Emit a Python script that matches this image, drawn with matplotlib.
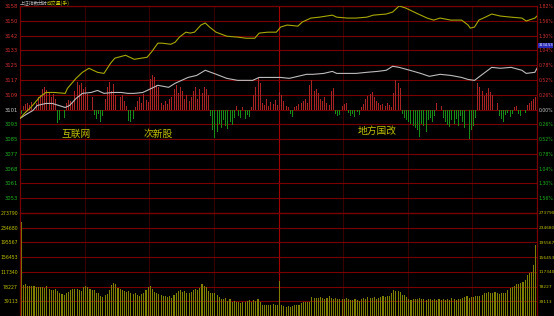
import matplotlib.pyplot as plt
import matplotlib.transforms as mtransforms

plt.rcParams['font.family'] = ['Noto Sans CJK SC', 'DejaVu Sans']

# --- data ---------------------------------------------------------------
prev_close = 3101.0
price_step = 8.07

left_labels = ['3158', '3150', '3142', '3133', '3125', '3117', '3109', '3101',
               '3093', '3085', '3077', '3068', '3061', '3053']
right_labels = ['1.82%', '1.56%', '1.30%', '1.04%', '0.78%', '0.52%', '0.26%', '0.00%',
                '0.26%', '0.52%', '0.78%', '1.04%', '1.30%', '1.56%']
vol_labels = ['273790', '234680', '195567', '156453', '117340', '78227', '39113']
vol_step = 39113

# yellow line (minute, price)
yellow_min = [0, 2, 5, 7, 9, 12, 16, 21, 22, 26, 29, 32, 36, 39, 42, 44, 49, 53, 59, 61,
              64, 66, 70, 72, 74, 77, 79, 81, 84, 86, 88, 91, 96, 101, 105, 109, 111, 115,
              119, 121, 124, 129, 131, 135, 139, 145, 147, 152, 156, 161, 164, 170, 173,
              176, 179, 184, 189, 192, 195, 200, 205, 208, 209, 211, 213, 216, 219, 223,
              228, 233, 235, 239, 240]
yellow_px = [3096.1, 3098.8, 3102.1, 3104.8, 3107.6, 3110.3, 3110.3, 3109.8, 3112.5, 3118.0,
             3121.3, 3123.5, 3121.3, 3120.7, 3126.2, 3129.0, 3130.6, 3128.4, 3129.5, 3132.3,
             3137.2, 3137.2, 3136.6, 3137.7, 3140.5, 3143.2, 3142.7, 3143.2, 3147.1, 3148.2,
             3146.0, 3143.2, 3141.0, 3140.5, 3139.9, 3139.9, 3142.7, 3143.2, 3143.2, 3146.0,
             3147.1, 3146.5, 3148.7, 3150.9, 3151.4, 3152.5, 3151.4, 3150.9, 3150.9, 3151.4,
             3152.5, 3153.1, 3154.2, 3157.5, 3156.4, 3153.6, 3150.9, 3149.8, 3150.9, 3149.8,
             3149.8, 3147.1, 3145.4, 3146.0, 3149.8, 3151.4, 3153.1, 3152.0, 3151.4, 3150.9,
             3149.3, 3150.9, 3152.0]

# white line (minute, price)
white_min = [0, 2, 6, 8, 12, 15, 18, 21, 23, 26, 29, 33, 36, 39, 43, 47, 50, 53, 57, 61,
             64, 69, 72, 75, 78, 82, 86, 90, 96, 101, 108, 111, 116, 121, 125, 129, 133,
             136, 141, 145, 147, 152, 156, 161, 166, 170, 173, 176, 181, 186, 190, 195, 200,
             205, 208, 211, 214, 219, 223, 228, 233, 235, 239, 240]
white_px = [3096.1, 3097.7, 3100.5, 3103.2, 3104.3, 3104.3, 3103.2, 3102.1, 3103.2, 3107.0,
            3109.8, 3110.3, 3111.4, 3109.8, 3110.3, 3110.3, 3109.8, 3109.8, 3110.3, 3112.5,
            3114.2, 3113.1, 3115.3, 3116.9, 3118.5, 3119.6, 3122.4, 3120.7, 3118.0, 3116.9,
            3116.9, 3118.5, 3118.5, 3118.5, 3118.0, 3119.1, 3120.2, 3120.2, 3120.7, 3121.8,
            3120.7, 3120.7, 3120.7, 3121.3, 3121.8, 3122.4, 3124.6, 3124.0, 3122.4, 3120.7,
            3119.1, 3120.2, 3119.6, 3118.5, 3117.4, 3116.9, 3119.6, 3124.0, 3123.5, 3124.0,
            3122.4, 3120.7, 3121.3, 3123.5]

# red/green strength bars, one per minute
breadth = [
    -4, 3, 5, 6, 4, 7, 8, 6, 12, 14,
    20, 22, 19, 16, 12, 15, 10, -13, -10, -14,
    -8, 6, 9, 8, 7, 18, 27, 24, 26, 20,
    22, 15, 17, 12, -5, -9, -4, -12, -6, 10,
    22, 27, 18, 25, 14, 16, 12, 14, 8, 3,
    -11, -12, -9, 2, 8, 12, 6, 15, 9, 7,
    30, 34, 32, 24, 22, 6, 4, 8, 5, 10,
    12, 20, 24, 16, 22, 18, 10, 14, 8, 12,
    18, 22, 10, 20, 16, 22, 20, 14, -6, -20,
    -28, -22, -14, -18, -10, -16, -19, -12, -15, -8,
    3, -6, -8, 2, -9, -5, -7, 2, 14, 22,
    31, 26, 6, 4, 10, 3, 7, 5, 9, 4,
    17, 14, 8, 3, 2, -4, -7, 2, 3, 5,
    6, 8, 10, 6, 24, 29, 18, 20, 16, 10,
    8, 12, 6, 4, 18, 21, -4, -6, -5, 3,
    5, 6, -3, -6, -4, -7, -2, -5, 2, 5,
    10, 13, 15, 17, 12, 8, 6, 4, 5, 3,
    6, 4, 2, 16, 29, 26, 21, -4, -8, -10,
    -12, -14, -16, -18, -20, -27, -14, -16, -22, -10,
    -8, -12, -6, 6, 9, 3, -8, -12, -15, -17,
    -10, -14, -9, -16, -6, -12, -18, -22, -29, -20,
    -16, -8, 26, 22, 18, 13, 16, 21, 17, 14,
    10, 6, -6, -9, -12, -5, -3, -7, -4, 2,
    3, -4, -6, 2, -3, 4, 6, 8, 10, 12,
]

volume = [
    250000, 82000, 84000, 80000, 81000, 79000, 80000, 77000, 76000, 78000,
    77000, 74000, 79000, 72000, 68000, 70000, 73000, 66000, 60000, 58000,
    55000, 62000, 64000, 70000, 72000, 73000, 71000, 68000, 66000, 78000,
    80000, 76000, 72000, 70000, 68000, 62000, 60000, 54000, 50000, 56000,
    58000, 70000, 82000, 88000, 86000, 74000, 72000, 68000, 66000, 64000,
    66000, 62000, 58000, 60000, 56000, 54000, 58000, 62000, 70000, 76000,
    80000, 72000, 64000, 60000, 58000, 56000, 54000, 52000, 50000, 52000,
    48000, 56000, 60000, 66000, 68000, 64000, 66000, 62000, 60000, 64000,
    68000, 72000, 70000, 74000, 85000, 80000, 76000, 66000, 62000, 60000,
    62000, 56000, 50000, 46000, 44000, 48000, 40000, 44000, 38000, 40000,
    36000, 36000, 35000, 37000, 36000, 40000, 42000, 38000, 43000, 40000,
    44000, 38000, 30000, 28000, 29000, 30000, 28000, 31000, 29000, 30000,
    93000, 28000, 27000, 25000, 27000, 24000, 26000, 28000, 30000, 29000,
    35000, 37000, 36000, 38000, 36000, 50000, 48000, 49000, 47000, 51000,
    48000, 46000, 49000, 52000, 47000, 45000, 48000, 44000, 46000, 45000,
    44000, 47000, 46000, 43000, 42000, 44000, 43000, 41000, 45000, 48000,
    46000, 50000, 47000, 49000, 51000, 46000, 48000, 50000, 52000, 50000,
    54000, 52000, 62000, 69000, 66000, 67000, 64000, 56000, 57000, 50000,
    44000, 42000, 45000, 46000, 44000, 47000, 46000, 45000, 43000, 46000,
    44000, 42000, 45000, 43000, 44000, 42000, 44000, 43000, 45000, 42000,
    47000, 44000, 43000, 46000, 44000, 48000, 50000, 52000, 49000, 51000,
    50000, 52000, 54000, 52000, 56000, 60000, 62000, 64000, 60000, 62000,
    63000, 60000, 58000, 61000, 60000, 62000, 70000, 74000, 76000, 80000,
    84000, 86000, 88000, 90000, 96000, 110000, 114000, 116000, 136000, 189000,
]

themes = ['互联网', '次新股', '地方国改']
theme_min = [26, 64, 166]
theme_px = [3087.8, 3087.8, 3089.5]

cursor_price = 3134.53

# --- figure -------------------------------------------------------------
BG = 'black'
GRID = '#7a0000'
VGRID = '#380000'
MIDV = '#a00000'

fig = plt.figure(figsize=(5.54, 3.16), dpi=100, facecolor=BG)
ax = fig.add_axes([20/554, 1 - 213/316, 517/554, 207/316])
axv = fig.add_axes([20/554, 0, 517/554, 103/316])

for a in (ax, axv):
    a.set_facecolor(BG)
    a.set_xlim(0, 240)
    a.set_xticks([])
    for s in a.spines.values():
        s.set_color(GRID)
        s.set_linewidth(0.9)
    for m in (30, 60, 90, 150, 180, 210):
        a.axvline(m, color=VGRID, lw=0.8, zorder=0)
    a.axvline(120, color=MIDV, lw=0.8, zorder=0)

# price panel
ax.set_ylim(prev_close - 7 * price_step, prev_close + 7 * price_step)
ticks = [prev_close + k * price_step for k in range(7, -7, -1)]
for t in ticks:
    ax.axhline(t, color=GRID, lw=0.8, zorder=0)
ax.set_yticks(ticks)
ax.set_yticklabels(left_labels)
ax.tick_params(axis='y', length=0, labelsize=3.8, pad=1.5)
for i, lab in enumerate(ax.get_yticklabels()):
    lab.set_color('#d03030' if i < 7 else ('#c8c8c8' if i == 7 else '#20b020'))
    lab.set_family('DejaVu Sans')

ax2 = ax.twinx()
ax2.set_ylim(ax.get_ylim())
ax2.set_yticks(ticks)
ax2.set_yticklabels(right_labels)
ax2.tick_params(axis='y', length=0, labelsize=3.3, pad=1.2)
for s in ax2.spines.values():
    s.set_visible(False)
for i, lab in enumerate(ax2.get_yticklabels()):
    lab.set_color('#d03030' if i < 7 else ('#c8c8c8' if i == 7 else '#20b020'))
    lab.set_family('DejaVu Sans')

BREADTH_SCALE = 0.55
mins = [m + 0.5 for m in range(240)]
ax.bar(mins, [v * BREADTH_SCALE for v in breadth], bottom=prev_close, width=0.45,
       color=['#a82424' if v > 0 else '#188c18' for v in breadth], zorder=2, linewidth=0)

ax.plot(white_min, white_px, color='#bcbcbc', lw=0.8, zorder=3)
ax.plot(yellow_min, yellow_px, color='#a8a800', lw=0.8, zorder=4)

for name, m, p in zip(themes, theme_min, theme_px):
    ax.text(m, p, name, color='#c0c000', fontsize=7, ha='center', va='center', zorder=5)

# cursor price box on the right
tr = mtransforms.blended_transform_factory(ax.transAxes, ax.transData)
ax.text(1.003, cursor_price + 1.5, f'{cursor_price:.2f}', transform=tr, fontsize=2.5,
        color='white', family='DejaVu Sans', ha='left', va='center', zorder=6,
        clip_on=False, bbox=dict(facecolor='#2a2ab8', edgecolor='none', pad=0.2))

# volume panel
axv.set_ylim(0, 7 * vol_step)
vticks = [vol_step * k for k in range(7, 0, -1)]
for t in vticks:
    axv.axhline(t, color=GRID, lw=0.8, zorder=0)
axv.bar(mins, volume, width=0.5, color='#7e7e00', linewidth=0, zorder=2)
axv.set_yticks(vticks)
axv.set_yticklabels(vol_labels)
axv.tick_params(axis='y', length=0, labelsize=3.3, pad=1.5, labelcolor='#c0c000')
axv2 = axv.twinx()
axv2.set_ylim(axv.get_ylim())
axv2.set_yticks(vticks)
axv2.set_yticklabels(vol_labels)
axv2.tick_params(axis='y', length=0, labelsize=3.1, pad=1.2, labelcolor='#c0c000')
for s in axv2.spines.values():
    s.set_visible(False)
for lab in axv.get_yticklabels() + axv2.get_yticklabels():
    lab.set_family('DejaVu Sans')

# header
fig.text(20/554, 1 - 3/316, '上证指数', color='#b0b0b0', fontsize=3.5, va='center')
fig.text(38/554, 1 - 3/316, '分时', color='#d0d0d0', fontsize=3.5, va='center')
fig.text(47/554, 1 - 3/316, '成交量(手)', color='#c0c000', fontsize=3.5, va='center')

fig.savefig('out.png', dpi=100, facecolor=BG)
